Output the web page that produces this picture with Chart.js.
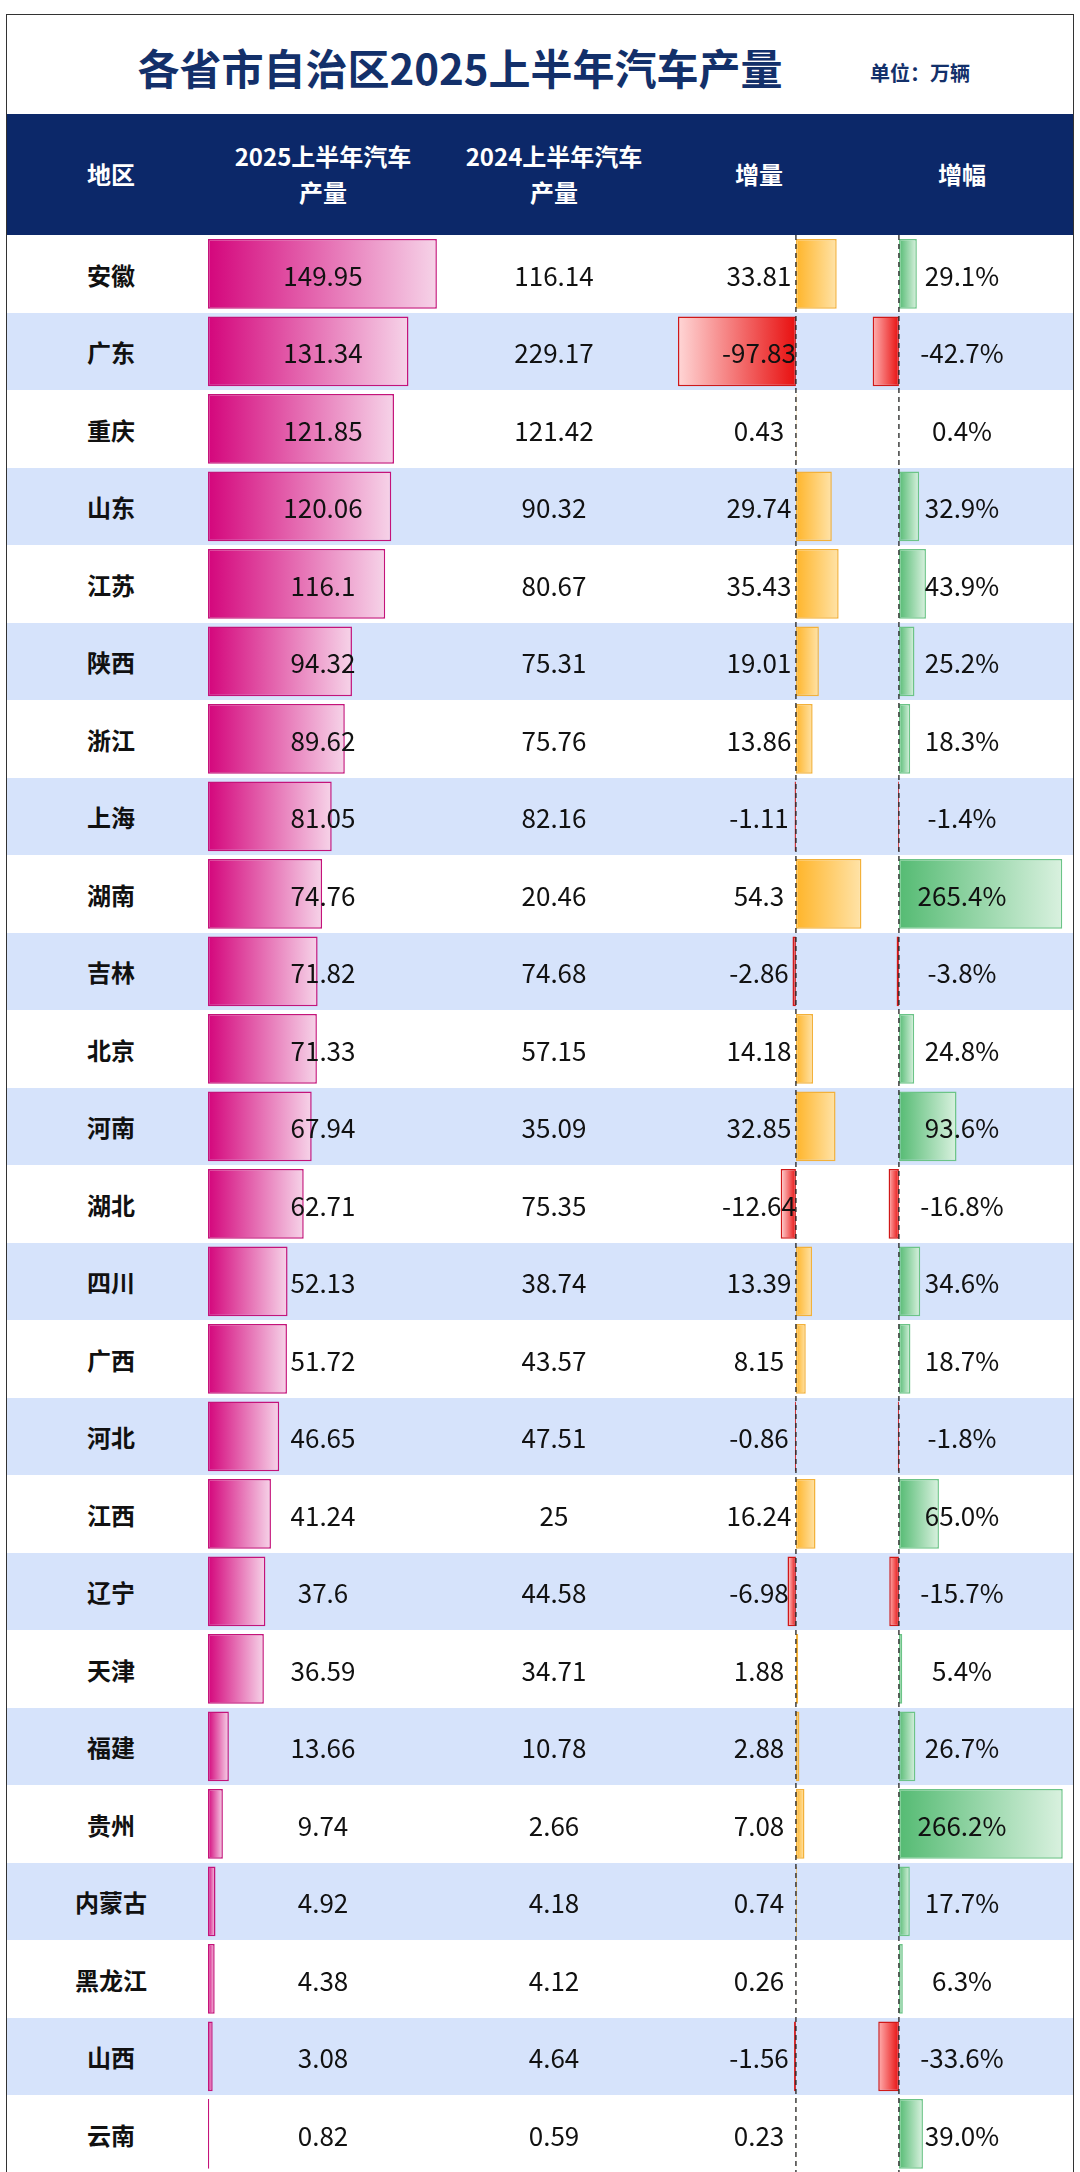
<!DOCTYPE html>
<html><head><meta charset="utf-8">
<script src="https://cdn.jsdelivr.net/npm/chart.js@4"></script>
<style>
body{margin:0;width:1080px;height:2172px;overflow:hidden;background:#fff;font-family:"Noto Sans CJK SC","Noto Sans",sans-serif;position:relative}
.abs{position:absolute}
.t{position:absolute;transform:translate(-50%,-50%);white-space:nowrap;z-index:5}
canvas{position:absolute;z-index:2}
</style></head><body>
<div class="abs" style="left:6px;top:14px;width:1066px;height:2170px;border:1.5px solid #333;border-bottom:none;z-index:6;pointer-events:none"></div>
<div class="t" style="left:460px;top:66px;font-size:42px;font-weight:700;color:#13306a">各省市自治区2025上半年汽车产量</div>
<div class="t" style="left:920px;top:72px;font-size:20px;font-weight:700;color:#13306a">单位：万辆</div>
<div class="abs" style="left:7px;top:114px;width:1066px;height:121px;background:#0c2869"></div>
<div id="rows"></div>
<canvas id="cA" width="232" height="2015" style="left:208px;top:235px"></canvas>
<canvas id="cB" width="240" height="2015" style="left:650px;top:235px"></canvas>
<canvas id="cC" width="200" height="2015" style="left:870px;top:235px"></canvas>
<script>
const regions=["安徽","广东","重庆","山东","江苏","陕西","浙江","上海","湖南","吉林","北京","河南","湖北","四川","广西","河北","江西","辽宁","天津","福建","贵州","内蒙古","黑龙江","山西","云南"];
const prod2025=[149.95,131.34,121.85,120.06,116.1,94.32,89.62,81.05,74.76,71.82,71.33,67.94,62.71,52.13,51.72,46.65,41.24,37.6,36.59,13.66,9.74,4.92,4.38,3.08,0.82];
const prod2024=[116.14,229.17,121.42,90.32,80.67,75.31,75.76,82.16,20.46,74.68,57.15,35.09,75.35,38.74,43.57,47.51,25,44.58,34.71,10.78,2.66,4.18,4.12,4.64,0.59];
const change=[33.81,-97.83,0.43,29.74,35.43,19.01,13.86,-1.11,54.3,-2.86,14.18,32.85,-12.64,13.39,8.15,-0.86,16.24,-6.98,1.88,2.88,7.08,0.74,0.26,-1.56,0.23];
const growth=[29.1,-42.7,0.4,32.9,43.9,25.2,18.3,-1.4,265.4,-3.8,24.8,93.6,-16.8,34.6,18.7,-1.8,65.0,-15.7,5.4,26.7,266.2,17.7,6.3,-33.6,39.0];
const headers=["地区","2025上半年汽车<br>产量","2024上半年汽车<br>产量","增量","增幅"];

const TOP=235,RH=77.5,NR=26;
const cx=[111,323,554,759,962];
const rows=document.getElementById('rows');
function add(html,x,y,style){const d=document.createElement('div');d.className='t';d.style.cssText+=`left:${x}px;top:${y}px;`+style;d.innerHTML=html;rows.appendChild(d);}
headers.forEach((h,i)=>add(h,cx[i],174,'font-size:24px;font-weight:700;color:#fff;text-align:center;line-height:36px;'));
for(let i=0;i<NR;i++){
  const s=document.createElement('div');s.className='abs';
  s.style.cssText=`left:7px;top:${TOP+i*RH}px;width:1066px;height:${RH}px;background:${i%2?'#d6e3fb':'#fff'};z-index:1`;
  rows.appendChild(s);
}
const fs='font-size:26px;color:#111;';
regions.forEach((r,i)=>{
  const y=TOP+i*RH+RH/2;
  add(r,cx[0],y,'font-size:24px;font-weight:700;color:#111;');
  add(String(prod2025[i]),cx[1],y,fs);
  add(String(prod2024[i]),cx[2],y,fs);
  add(String(change[i]),cx[3],y,fs);
  add(growth[i].toFixed(1)+'%',cx[4],y,fs);
});
const labels=regions.concat([""]);
function grad(strong,light,negStrong,negLight){
  return ctx=>{const c=ctx.chart;const v=ctx.raw;if(v==null||!c.chartArea)return 'transparent';
    const x=c.scales.x;const p0=x.getPixelForValue(0),p1=x.getPixelForValue(v);
    const g=c.ctx.createLinearGradient(p0,0,p1===p0?p0+1:p1,0);
    if(v>=0){g.addColorStop(0,strong);g.addColorStop(1,light);}else{g.addColorStop(0,negStrong);g.addColorStop(1,negLight);}
    return g;};
}
const dashPlugin={id:'dash',afterDatasetsDraw(c){const x=c.scales.x.getPixelForValue(0);const g=c.ctx;g.save();g.setLineDash([5,4]);g.strokeStyle='#222';g.lineWidth=1.3;g.beginPath();g.moveTo(x,0);g.lineTo(x,c.height);g.stroke();g.restore();}};
function make(id,data,min,max,bg,border,dash){
  return new Chart(document.getElementById(id),{type:'bar',
    data:{labels,datasets:[{data,backgroundColor:bg,borderColor:border,borderWidth:1.5,borderSkipped:false,barPercentage:0.9,categoryPercentage:1}]},
    options:{indexAxis:'y',responsive:false,animation:false,layout:{padding:0},
      plugins:{legend:{display:false},tooltip:{enabled:false}},
      scales:{x:{display:false,min,max},y:{display:false}}},
    plugins:dash?[dashPlugin]:[]});
}
make('cA',prod2025,0,152,grad('#d4067c','#f6d3e8'),'#c4137a',false);
make('cB',change,-121,78,grad('#ffb52a','#ffe3a8','#e81010','#ffd6d6'),ctx=>ctx.raw<0?'#d01818':'#f3b13a',true);
make('cC',growth,-47,278,grad('#55bb73','#d9f1df','#e81010','#ffb0b0'),ctx=>ctx.raw<0?'#d01818':'#6cc487',true);
</script>
</body></html>
